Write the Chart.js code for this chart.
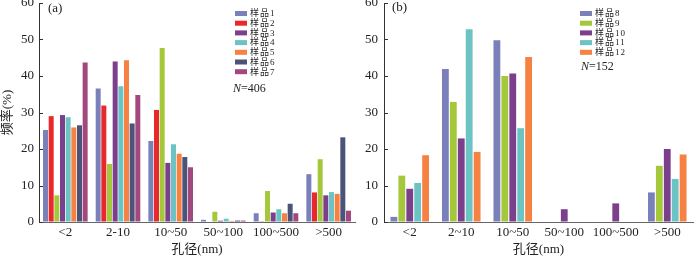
<!DOCTYPE html>
<html>
<head>
<meta charset="utf-8">
<script src="https://cdn.jsdelivr.net/npm/chart.js@4.4.1/dist/chart.umd.min.js"></script>
<style>
    body { margin: 0; background: #fff; }
    #wrap { position: relative; width: 700px; height: 257px; overflow: hidden; }
    #chart_a { position: absolute; left: 0; top: 0; }
    #chart_b { position: absolute; left: 362px; top: 0; }
</style>
</head>
<body>
<div id="wrap">
    <canvas id="chart_a" width="362" height="257"></canvas>
    <canvas id="chart_b" width="338" height="257"></canvas>
</div>
<script>
// Data
const labels_a = ['<2', '2-10', '10~50', '50~100', '100~500', '>500']
const labels_b = ['<2', '2~10', '10~50', '50~100', '100~500', '>500']
const y_ticks = [0, 10, 20, 30, 40, 50, 60]

const sample1 = [25.2, 36.6, 22.2, 0.6, 2.4, 13.1]
const sample2 = [29.0, 31.9, 30.7, 0, 0.2, 8.1]
const sample_green = [7.3, 15.9, 47.7, 2.8, 8.5, 17.2]   // not in the legend of (a)
const sample3 = [29.3, 44.0, 16.2, 0.35, 2.6, 7.3]
const sample4 = [28.7, 37.2, 21.3, 0.9, 3.5, 8.2]
const sample5 = [25.9, 44.3, 18.7, 0.3, 2.4, 7.7]
const sample6 = [26.5, 27.0, 17.8, 0.4, 5.0, 23.2]
const sample7 = [43.7, 34.8, 15.0, 0.4, 2.4, 3.1]

const sample8 = [1.4, 41.9, 49.8, 0, 0, 8.1]
const sample9 = [12.7, 32.9, 40.0, 0, 0, 15.4]
const sample10 = [9.1, 22.9, 40.7, 3.5, 5.1, 20.0]
const sample11 = [10.7, 52.8, 25.7, 0, 0, 11.8]
const sample12 = [18.3, 19.2, 45.2, 0, 0, 18.5]

const blue = '#7a80ba', red = '#e8282b', green = '#a5c83a', purple = '#7b3f8c'
const teal = '#6cc3c3', orange = '#f58143', navy = '#4b5378', mauve = '#a2487f'

const serif = "'Liberation Serif', 'Noto Sans CJK SC', serif"
const txt = '#222'

// inward tick marks on the y axis + legend + labels
const extras = {
    id: 'extras',
    afterDraw(chart, args, opts) {
        const ctx = chart.ctx
        const ys = chart.scales.y
        ctx.save()
        ctx.strokeStyle = '#333'
        ctx.lineWidth = 1
        ys.ticks.forEach(t => {
            const py = Math.round(ys.getPixelForValue(t.value)) + 0.5
            ctx.beginPath()
            ctx.moveTo(ys.right, py)
            ctx.lineTo(ys.right + 4, py)
            ctx.stroke()
        })

        // legend
        ctx.font = '9px ' + serif
        ctx.letterSpacing = '1px'
        ctx.textBaseline = 'middle'
        ctx.textAlign = 'left'
        let row = 0
        chart.data.datasets.forEach(ds => {
            if (!ds.label) { return }
            const cy = opts.ly + row * 9.7
            ctx.fillStyle = ds.backgroundColor
            ctx.fillRect(opts.lx, cy - 2.5, 12, 5)
            ctx.fillStyle = txt
            ctx.fillText(ds.label, opts.lx + 15, cy + 0.5)
            row++
        })
        ctx.letterSpacing = '0px'

        // N=...
        ctx.font = 'italic 12px ' + serif
        ctx.fillText('N', opts.nx, opts.ny)
        const w = ctx.measureText('N').width
        ctx.font = '12px ' + serif
        ctx.fillText('=' + opts.n, opts.nx + w, opts.ny)

        // panel tag
        ctx.font = '13px ' + serif
        ctx.fillText(opts.tag, opts.tx, opts.ty)
        ctx.restore()
    }
}

function makeChart(canvas, cats, sets, yWidth, yPad, showTitle, ex, catPct, barPct) {
    return new Chart(canvas, {
        type: 'bar',
        data: {
            labels: cats,
            datasets: sets.map(s => ({
                label: s[0],
                data: s[1],
                backgroundColor: s[2],
                borderWidth: 0,
                categoryPercentage: catPct,
                barPercentage: barPct
            }))
        },
        options: {
            responsive: false,
            animation: false,
            layout: { padding: { top: 3, right: 7, left: 0, bottom: 0 } },
            plugins: {
                legend: { display: false },
                tooltip: { enabled: false },
                extras: ex
            },
            scales: {
                x: {
                    grid: { display: true, drawOnChartArea: false, drawTicks: false },
                    border: { color: '#666', width: 1 },
                    ticks: { font: { family: serif, size: 13 }, color: txt, padding: 3, maxRotation: 0, autoSkip: false },
                    title: { display: true, text: '孔径(nm)', font: { family: serif, size: 13 }, color: txt, padding: { top: 0, bottom: 0 } },
                    afterFit: function (s) { s.height = 35; s.paddingLeft = 0; s.paddingRight = 0 }
                },
                y: {
                    min: 0,
                    max: 60,
                    afterBuildTicks: function (s) { s.ticks = y_ticks.map(v => ({ value: v })) },
                    grid: { display: true, drawOnChartArea: false, drawTicks: false },
                    border: { color: '#333', width: 1 },
                    ticks: { font: { family: serif, size: 13 }, color: txt, padding: yPad },
                    title: { display: showTitle, text: '频率(%)', font: { family: serif, size: 13 }, color: txt, padding: { top: 0, bottom: 0 } },
                    afterFit: function (s) { s.width = yWidth; s.paddingTop = 0; s.paddingBottom = 0 }
                }
            }
        },
        plugins: [extras]
    })
}

const chart_a = makeChart(document.getElementById('chart_a'), labels_a, [
    ['样品1', sample1, blue],
    ['样品2', sample2, red],
    ['', sample_green, green],
    ['样品3', sample3, purple],
    ['样品4', sample4, teal],
    ['样品5', sample5, orange],
    ['样品6', sample6, navy],
    ['样品7', sample7, mauve]
], 39, 5, true, { lx: 235, ly: 13.5, nx: 233, ny: 89, n: '406', tag: '(a)', tx: 48, ty: 9 }, 0.86, 0.88)

const chart_b = makeChart(document.getElementById('chart_b'), labels_b, [
    ['样品8', sample8, blue],
    ['样品9', sample9, green],
    ['样品10', sample10, purple],
    ['样品11', sample11, teal],
    ['样品12', sample12, orange]
], 22, 6, false, { lx: 218, ly: 13.5, nx: 219, ny: 67, n: '152', tag: '(b)', tx: 30, ty: 8 }, 0.77, 0.86)
</script>
</body>
</html>
